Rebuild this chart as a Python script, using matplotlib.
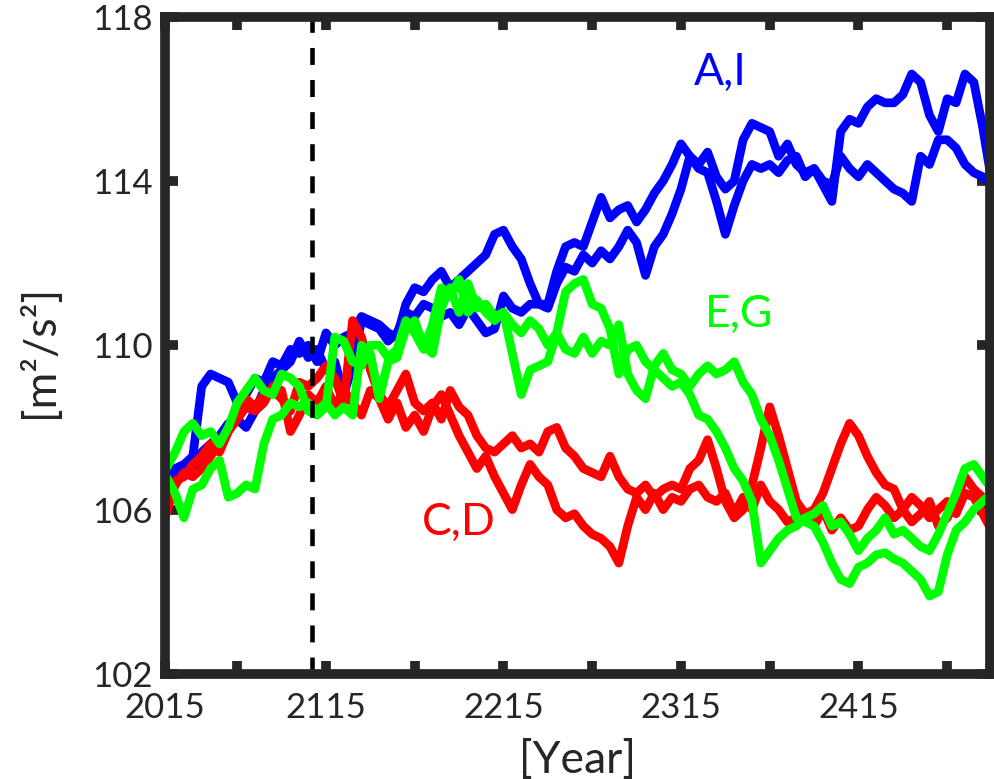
import matplotlib
matplotlib.use('Agg')
import matplotlib.pyplot as plt
import numpy as np

plt.rcParams['font.family'] = ['Lato', 'DejaVu Sans']

# 5-year samples
years = np.arange(2025, 2491, 5)

run_a = [106.6, 107.0, 107.1, 107.3, 109.0, 109.3, 109.2, 109.1, 108.6, 108.8,
         109.2, 109.1, 109.6, 109.5, 109.9, 109.8, 110.0, 109.6, 110.3, 110.0,
         110.2, 110.3, 110.7, 110.6, 110.5, 110.3, 110.2, 111.0, 111.4, 111.3,
         111.6, 111.8, 111.4, 111.6, 111.8, 112.0, 112.2, 112.7, 112.8, 112.4,
         112.1, 111.5, 111.0, 111.0, 111.8, 112.4, 112.5, 112.4, 113.0, 113.6,
         113.1, 113.3, 113.4, 113.0, 113.3, 113.7, 114.0, 114.4, 114.9, 114.6,
         114.4, 114.7, 114.1, 113.8, 114.0, 115.0, 115.4, 115.3, 115.2, 114.6,
         114.9, 114.4, 114.2, 114.3, 113.9, 113.5, 115.2, 115.5, 115.4, 115.8,
         116.0, 115.9, 115.9, 116.1, 116.6, 116.4, 115.6, 115.2, 116.0, 115.9,
         116.6, 116.4, 115.3, 114.0]
run_i = [106.4, 106.6, 107.0, 107.0, 107.4, 107.6, 107.8, 108.1, 108.2, 108.0,
         108.4, 108.9, 109.2, 109.4, 109.6, 110.1, 109.7, 109.9, 109.4, 109.6,
         108.8, 109.5, 110.6, 110.5, 110.4, 110.1, 110.3, 110.8, 110.7, 111.0,
         110.9, 110.7, 110.8, 110.5, 110.9, 110.6, 110.3, 110.4, 111.2, 110.9,
         110.8, 111.0, 111.0, 110.9, 111.5, 111.9, 111.8, 112.2, 112.0, 112.3,
         112.1, 112.4, 112.8, 112.5, 111.7, 112.4, 112.7, 113.2, 113.8, 114.6,
         114.3, 114.2, 113.5, 112.7, 113.4, 114.0, 114.4, 114.3, 114.4, 114.2,
         114.5, 114.6, 114.1, 114.3, 114.0, 113.9, 114.6, 114.3, 114.1, 114.4,
         114.2, 114.0, 113.8, 113.7, 113.5, 114.6, 114.4, 115.0, 115.0, 114.8,
         114.4, 114.2, 114.1, 113.9]

run_c = [105.9, 106.6, 106.9, 106.8, 107.0, 107.3, 107.6, 108.0, 108.4, 108.7,
         108.5, 108.8, 108.9, 108.7, 108.4, 109.1, 109.0, 109.2, 109.5, 109.2,
         108.6, 110.6, 110.2, 109.4, 108.8, 108.5, 108.9, 109.3, 108.6, 108.4,
         108.6, 108.2, 108.9, 108.5, 108.3, 107.8, 107.5, 107.4, 107.6, 107.8,
         107.5, 107.6, 107.4, 107.9, 108.0, 107.5, 107.3, 107.0, 106.9, 106.8,
         107.3, 106.8, 106.5, 106.4, 106.6, 106.3, 106.5, 106.6, 106.5, 107.0,
         107.2, 107.7, 107.0, 106.2, 105.8, 106.0, 106.6, 107.5, 108.5, 107.8,
         107.0, 106.2, 105.9, 106.0, 106.4, 107.0, 107.6, 108.1, 107.8, 107.3,
         106.9, 106.6, 106.5, 106.0, 106.3, 106.1, 105.8, 106.0, 106.2, 105.9,
         106.4, 106.3, 105.9, 105.5]
run_d = [106.1, 106.7, 106.8, 107.1, 107.3, 107.6, 107.4, 107.9, 108.2, 108.5,
         108.4, 108.6, 109.0, 108.9, 107.9, 108.3, 108.8, 108.6, 109.0, 108.5,
         108.9, 108.6, 108.3, 108.9, 108.7, 108.2, 108.6, 108.0, 108.3, 107.9,
         108.5, 108.8, 108.3, 107.8, 107.4, 107.0, 107.3, 106.8, 106.4, 106.0,
         106.6, 107.1, 106.8, 106.6, 106.0, 105.8, 105.9, 105.6, 105.4, 105.3,
         105.1, 104.7, 105.6, 106.3, 106.0, 106.4, 106.0, 106.3, 106.2, 106.5,
         106.6, 106.3, 106.2, 106.4, 105.9, 106.3, 106.0, 106.6, 106.2, 106.0,
         105.7, 105.8, 105.8, 105.6, 106.0, 105.5, 105.8, 105.5, 105.6, 106.0,
         106.3, 106.1, 105.8, 106.0, 105.7, 105.9, 106.2, 105.6, 105.8, 106.2,
         106.8, 106.5, 106.3, 106.1]

run_e = [107.0, 107.4, 107.9, 108.1, 107.8, 107.9, 107.6, 108.0, 108.6, 108.9,
         109.2, 108.9, 108.8, 109.3, 109.2, 109.0, 108.4, 108.3, 108.5, 110.2,
         110.1, 109.6, 109.5, 110.0, 110.0, 109.7, 109.9, 110.6, 110.3, 109.9,
         110.5, 111.4, 111.2, 111.6, 110.8, 111.1, 110.8, 110.6, 110.8, 110.5,
         110.3, 110.6, 110.4, 110.0, 110.3, 111.3, 111.5, 111.6, 111.0, 110.9,
         110.4, 109.3, 109.9, 110.0, 109.6, 109.4, 109.2, 109.0, 109.1, 108.8,
         108.3, 108.2, 107.9, 107.5, 107.0, 106.7, 106.2, 104.7, 105.0, 105.3,
         105.5, 105.6, 105.8, 105.9, 106.1, 105.6, 105.7, 105.4, 105.0, 105.3,
         105.5, 105.8, 105.4, 105.5, 105.3, 105.1, 105.0, 105.4, 105.9, 106.4,
         107.0, 107.1, 106.8, 106.5]
run_g = [106.8, 106.4, 105.8, 106.5, 106.6, 107.0, 107.2, 106.3, 106.4, 106.6,
         106.5, 107.6, 108.2, 108.3, 108.6, 108.5, 108.6, 108.4, 108.6, 108.3,
         108.5, 108.3, 110.0, 109.8, 108.7, 109.6, 109.7, 110.4, 110.6, 110.0,
         109.8, 110.9, 111.4, 110.8, 111.5, 110.9, 111.0, 110.7, 110.8, 109.8,
         108.8, 109.4, 109.5, 109.6, 110.3, 109.9, 109.8, 110.2, 109.8, 110.1,
         110.0, 110.5, 109.3, 108.9, 108.7, 109.5, 109.8, 109.4, 109.3, 109.0,
         109.3, 109.5, 109.3, 109.4, 109.6, 109.1, 108.8, 108.2, 107.8, 107.2,
         106.5, 105.8, 105.7, 105.6, 105.2, 104.7, 104.3, 104.2, 104.6, 104.7,
         104.9, 104.95, 104.8, 104.7, 104.5, 104.3, 103.9, 104.0, 104.9, 105.5,
         105.7, 106.0, 106.2, 106.4]

dash_year = 2107
xtick_pos = [2024.3, 2065, 2115, 2165, 2215, 2265, 2315, 2365, 2415, 2465]
xtick_lab = ['2015', '', '2115', '', '2215', '', '2315', '', '2415', '']
ytick_pos = [102, 106, 110, 114, 118]

dark = '#262626'

fig = plt.figure(figsize=(9.95, 7.79), dpi=100)
ax = fig.add_axes([0.1658, 0.1348, 0.829, 0.844])

for run in (run_a, run_i):
    ax.plot(years, run, color='#0000ff', lw=6.3)
for run in (run_c, run_d):
    ax.plot(years, run, color='#ff0000', lw=6.3)
for run in (run_e, run_g):
    ax.plot(years, run, color='#00ff00', lw=6.3)

ax.axvline(dash_year, color='k', lw=3.3, dashes=(3.7, 3.3))

ax.text(2337, 116.65, 'A,I', color='#0000ff', fontsize=32, ha='center', va='center')
ax.text(2348, 110.75, 'E,G', color='#00ff00', fontsize=32, ha='center', va='center')
ax.text(2190, 105.7, 'C,D', color='#ff0000', fontsize=32, ha='center', va='center')

ax.set_xlim(2024.3, 2489)
ax.set_ylim(102, 118)
ax.set_xticks(xtick_pos)
ax.set_xticklabels(xtick_lab)
ax.set_yticks(ytick_pos)

for s in ax.spines.values():
    s.set_linewidth(7)
    s.set_color(dark)
ax.tick_params(direction='in', length=9.5, width=7, top=True, right=True,
               labelsize=25, pad=9, color=dark, labelcolor=dark)
ax.tick_params(axis='x', pad=13)

ax.set_xlabel('[Year]', fontsize=32, color=dark)
ax.set_ylabel('[m²/s²]', fontsize=32, color=dark)
ax.xaxis.set_label_coords(0.5, -0.131)
ax.xaxis.label.set_va('center')
ax.yaxis.set_label_coords(-0.151, 0.49)
ax.yaxis.label.set_va('center')

fig.savefig('out.png', dpi=100)
